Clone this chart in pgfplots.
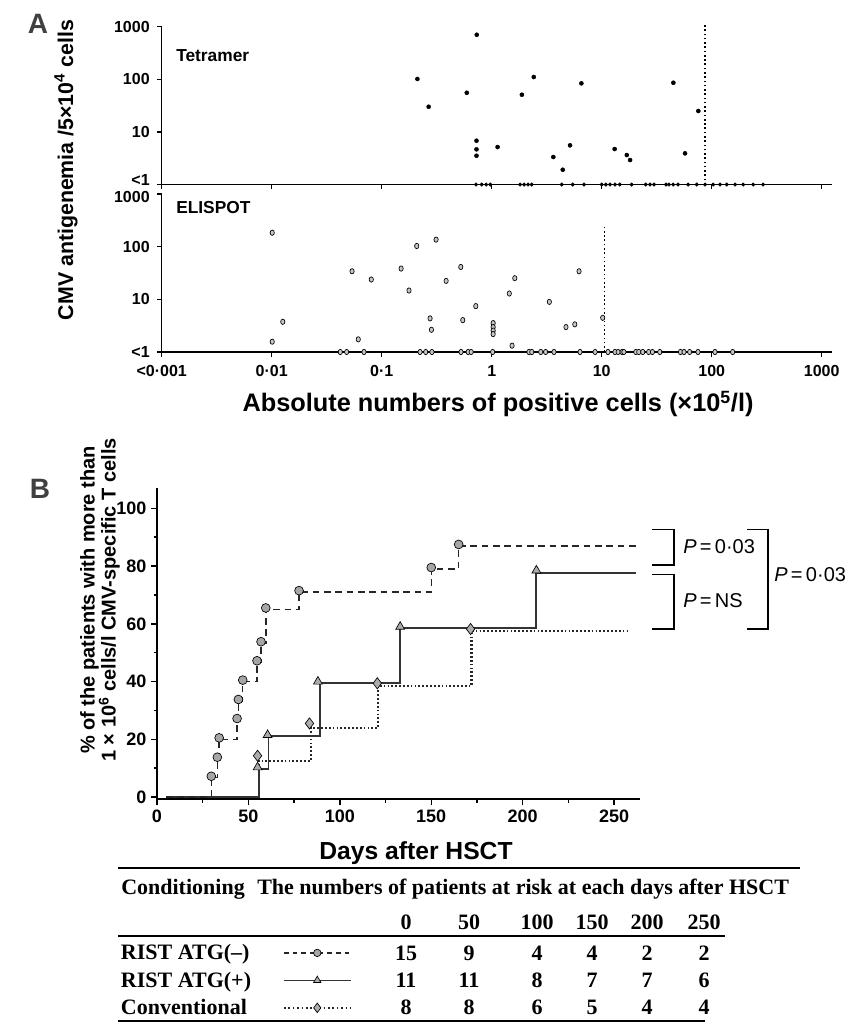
\documentclass[border=0pt]{standalone}
\usepackage{pgfplots}
\pgfplotsset{compat=1.18}
\usepackage{fontspec}
\setmainfont{Liberation Sans}
\newfontfamily\tablefont{Liberation Serif}

\pgfplotsset{
  panelA/.style={
    scale only axis, width=503pt, height=118.5pt, anchor=south west,
    xmin=0.001, xmax=1250, ymin=1, ymax=1000,
    axis x line=bottom, axis y line=left,
    axis line style={-, line width=1pt},
    tick align=outside, major tick length=3.5pt,
    tick style={line width=1pt, black},
    xminorticks=false, yminorticks=false,
    xtick={0.001,0.01,0.1,1,10,100,1000},
    tick label style={font=\bfseries\fontsize{12}{14}\selectfont},
    yticklabel style={xshift=-2pt},
    xticklabel style={yshift=-3pt},
    clip=false,
  },
  posA/.style={only marks, mark=*, mark size=1.5pt, black},
  posB/.style={only marks, mark=*, mark size=2pt, mark options={xscale=0.8, fill=gray!45, draw=black, line width=0.5pt}},
}

\begin{document}
\begin{tikzpicture}

% ---------------- Panel A, upper (Tetramer)
\begin{loglogaxis}[panelA, at={(121.3pt,-138.4pt)},
  xticklabels={\mbox{},\mbox{},\mbox{},\mbox{},\mbox{},\mbox{},\mbox{}},
  ytick={10,100,1000}, yticklabels={10,100,1000},
  extra y ticks={1}, extra y tick labels={<1},
  extra y tick style={yticklabel style={yshift=3.5pt}}]
\addplot[posA] coordinates {(0.211,101)(0.267,30)(0.731,698)(0.593,55.3)(0.727,6.79)(0.727,4.66)(0.727,3.52)(1.13,5.15)(1.88,50.7)(2.41,110)(6.53,83.4)(3.63,3.33)(4.42,1.91)(5.15,5.55)(13.1,4.72)(16.9,3.63)(18.1,2.92)(44.8,85.7)(57.2,3.91)(75.5,24.9)};
\addplot[posA, mark size=1.3pt] coordinates {(0.72,1)(0.81,1)(0.89,1)(0.97,1)(1.81,1)(1.97,1)(2.14,1)(2.31,1)(4.33,1)(5.45,1)(6.9,1)(10,1)(10.9,1)(11.9,1)(13.2,1)(14.6,1)(18.7,1)(25.1,1)(27.5,1)(29.9,1)(38.4,1)(40.8,1)(44.6,1)(49.4,1)(61,1)(73,1)(87,1)(103,1)(119,1)(137,1)(163,1)(193,1)(238,1)(293,1)};
\addplot[black, line width=1.2pt, dash pattern=on 1.2pt off 2pt] coordinates {(86.9,1)(86.9,1150)};
\end{loglogaxis}

% ---------------- Panel A, lower (ELISPOT)
\begin{loglogaxis}[panelA, at={(121.3pt,-264pt)}, xticklabels={<0·001,0·01,0·1,1,10,100,1000},
  ytick={1,10,100}, yticklabels={<1,10,100},
  extra y ticks={1000}, extra y tick labels={1000},
  extra y tick style={yticklabel style={yshift=-2.5pt}}]
\addplot[posB] coordinates {(0.0101,184)(0.0101,1.57)(0.0126,3.75)(0.0537,34.1)(0.0612,1.74)(0.0804,23.8)(0.15,38.4)(0.177,14.7)(0.208,103)(0.312,136)(0.275,4.35)(0.283,2.64)(0.385,22.4)(0.523,41.2)(0.545,4.03)(0.716,7.43)(1.03,3.54)(1.03,2.97)(1.03,2.55)(1.03,2.19)(1.53,1.32)(1.445,12.9)(1.62,25.2)(3.34,8.96)(4.73,2.97)(5.69,3.35)(6.22,34.1)(10.2,4.46)};
\addplot[posB] coordinates {(0.042,1)(0.048,1)(0.069,1)(0.223,1)(0.251,1)(0.286,1)(0.526,1)(0.61,1)(0.65,1)(1.02,1)(2.18,1)(2.31,1)(2.79,1)(3.09,1)(3.68,1)(6.35,1)(8.7,1)(11.4,1)(13.2,1)(14.1,1)(15.3,1)(15.9,1)(20.4,1)(21.7,1)(23.6,1)(26.7,1)(28.9,1)(33.7,1)(52,1)(56,1)(63,1)(75,1)(107,1)(155,1)};
\addplot[black, line width=1.2pt, dash pattern=on 1.2pt off 2pt] coordinates {(10.6,1)(10.6,235)};
\end{loglogaxis}

% ---------------- Panel B
\begin{axis}[scale only axis, width=362pt, height=233.4pt,
  at={(117.75pt,-599.5pt)}, anchor=south west,
  xmin=0, xmax=264, ymin=-0.8, ymax=107,
  axis x line=bottom, axis y line=left,
  axis line style={-, line width=1.3pt},
  tick align=outside, major tick length=4.5pt, minor tick length=2.5pt,
  tick style={line width=1.1pt, black},
  xtick={0,50,100,150,200,250}, xticklabels={0,50,100,150,200,250},
  ytick={0,20,40,60,80,100}, yticklabels={0,20,40,60,80,100},
  minor x tick num=1, minor y tick num=1,
  tick label style={font=\bfseries\fontsize{13.5}{16}\selectfont},
  clip=false,
  legend plot pos=right, legend cell align=left,
  legend style={at={(-0.0746,-0.4592)}, anchor=north west, draw=none, fill=none,
    inner sep=0pt, outer sep=0pt, row sep=4.6pt, column sep=0pt,
    nodes={inner sep=0pt, text height=13pt, text depth=3pt,
      font=\tablefont\bfseries\fontsize{16.5}{18}\selectfont}},
  legend image code/.code={\draw[mark repeat=2,mark phase=2,#1] plot coordinates {(0pt,0pt) (25pt,0pt) (50pt,0pt)};},
]
% Conventional (dotted)
\addplot[forget plot, black!85, line width=1.6pt, dash pattern=on 1.3pt off 1.6pt] coordinates {(5,0)(55.8,0)(55.8,12.5)(84,12.5)(84,24)(121,24)(121,38.5)(172,38.5)(172,57.5)(258,57.5)};
% RIST ATG(+) (solid)
\addplot[forget plot, black!80, line width=1.4pt] coordinates {(5,0)(55.8,0)(55.8,9.7)(61,9.7)(61,21)(89,21)(89,39.5)(133,39.5)(133,58.5)(207.5,58.5)(207.5,77.5)(262,77.5)};
% RIST ATG(-) (dashed)
\addplot[forget plot, black!85, line width=1.1pt, dash pattern=on 5pt off 3.5pt] coordinates {(5,0)(29.7,0)(29.7,6.7)(33,6.7)(33,13.3)(34,13.3)(34,20)(43.8,20)(43.8,26.7)(44.5,26.7)(44.5,33.3)(46.9,33.3)(46.9,40)(54.7,40)(54.7,46.7)(56.9,46.7)(56.9,53.3)(59.5,53.3)(59.5,65)(77.7,65)(77.7,71)(150,71)(150,79)(165,79)(165,87)(262,87)};
% markers
\addplot[forget plot, only marks, mark=diamond*, mark size=4.2pt, mark options={fill=gray!65, draw=black, line width=0.5pt}] coordinates {(55,14.3)(83.4,25.5)(120.5,39.4)(171.5,58.2)};
\addplot[forget plot, only marks, mark=triangle*, mark size=3.8pt, mark options={fill=gray!65, draw=black, line width=0.5pt}] coordinates {(55,10.3)(60.5,21.5)(88,40)(133,59)(207.5,78.5)};
\addplot[forget plot, only marks, mark=*, mark size=3.3pt, mark options={fill=gray!70, draw=black, line width=0.5pt}] coordinates {(29.7,7.2)(33,13.8)(34,20.5)(43.8,27.2)(44.5,33.8)(46.9,40.5)(54.7,47.2)(56.9,53.8)(59.5,65.5)(77.7,71.5)(150,79.5)(165,87.5)};

% legend rows of the table
\addlegendimage{black!85, line width=1pt, dash pattern=on 3.5pt off 3pt, mark=*, mark size=2.8pt, mark options={solid, fill=gray!70, draw=black, line width=0.5pt}}
\addlegendentry{\makebox[121.5pt][l]{RIST ATG(–)}}
\addlegendimage{black!80, line width=1.3pt, mark=triangle*, mark size=3.2pt, mark options={solid, fill=gray!65, draw=black, line width=0.5pt}}
\addlegendentry{\makebox[121.5pt][l]{RIST ATG(+)}}
\addlegendimage{black!85, line width=1.4pt, dash pattern=on 1.3pt off 2pt, mark=diamond*, mark size=3.6pt, mark options={solid, fill=gray!65, draw=black, line width=0.5pt}}
\addlegendentry{\makebox[121.5pt][l]{Conventional}}

% P-value brackets
\draw[line width=0.9pt] (axis cs:270.6,92.7) -- (axis cs:282.8,92.7) -- (axis cs:282.8,80.4) -- (axis cs:270.6,80.4);
\draw[line width=0.9pt] (axis cs:270.6,77.1) -- (axis cs:282.8,77.1) -- (axis cs:282.8,58.2) -- (axis cs:270.6,58.2);
\draw[line width=0.9pt] (axis cs:322.6,92.7) -- (axis cs:334.2,92.7) -- (axis cs:334.2,58.2) -- (axis cs:322.6,58.2);
\node[anchor=west, inner sep=0pt, font=\fontsize{15}{18}\selectfont] at (axis cs:287.7,86.7) {\textit{P}\,=\,0·03};
\node[anchor=west, inner sep=0pt, font=\fontsize{15}{18}\selectfont] at (axis cs:287.7,68.2) {\textit{P}\,=\,NS};
\node[anchor=west, inner sep=0pt, font=\fontsize{15}{18}\selectfont] at (axis cs:337.5,77.1) {\textit{P}\,=\,0·03};
\end{axis}

% ---------------- free text, in image pixel coordinates
\begin{scope}[x=0.75pt, y=-0.75pt]
\path[use as bounding box] (0,0) rectangle (848,1027);
\node[font=\bfseries\fontsize{21}{24}\selectfont, text=black!75] at (38,24) {A};
\node[font=\bfseries\fontsize{21}{24}\selectfont, text=black!75] at (40,489) {B};
\node[anchor=west, inner sep=0pt, font=\bfseries\fontsize{13}{15}\selectfont] at (176,56) {Tetramer};
\node[anchor=west, inner sep=0pt, font=\bfseries\fontsize{13}{15}\selectfont] at (176,208) {ELISPOT};
\node[rotate=90, inner sep=0pt, font=\bfseries\fontsize{16}{18}\selectfont] at (66,170) {CMV antigenemia /5×10\textsuperscript{4} cells};
\node[inner sep=0pt, font=\bfseries\fontsize{19}{22}\selectfont] at (498,404) {Absolute numbers of positive cells (×10\textsuperscript{5}/l)};
\node[rotate=90, inner sep=0pt, align=center, font=\bfseries\fontsize{15}{15.8}\selectfont] at (100,600) {\% of the patients with more than\\1 × 10\textsuperscript{6} cells/l CMV-specific T cells};
\node[inner sep=0pt, font=\bfseries\fontsize{18.5}{20}\selectfont] at (416,853) {Days after HSCT};
% table
\draw[line width=1.1pt] (118,868) -- (800,868);
\draw[line width=1.1pt] (118,936) -- (725,936);
\draw[line width=1.1pt] (118,1021) -- (705,1021);
\begin{scope}[every node/.style={inner sep=0pt, anchor=base, font=\tablefont\bfseries\fontsize{16.5}{18}\selectfont}]
\node[anchor=base west] at (121,894) {Conditioning};
\node[anchor=base west] at (257,894) {The numbers of patients at risk at each days after HSCT};
\node at (406,929) {0};   \node at (469,929) {50};  \node at (537,929) {100};
\node at (592,929) {150}; \node at (647,929) {200}; \node at (704,929) {250};
\node at (406,960) {15}; \node at (469,960) {9};  \node at (537,960) {4};
\node at (592,960) {4};  \node at (647,960) {2};  \node at (704,960) {2};
\node at (406,987.5) {11}; \node at (469,987.5) {11}; \node at (537,987.5) {8};
\node at (592,987.5) {7};  \node at (647,987.5) {7};  \node at (704,987.5) {6};
\node at (406,1014.5) {8}; \node at (469,1014.5) {8}; \node at (537,1014.5) {6};
\node at (592,1014.5) {5}; \node at (647,1014.5) {4}; \node at (704,1014.5) {4};
\end{scope}
\end{scope}
\end{tikzpicture}
\end{document}
